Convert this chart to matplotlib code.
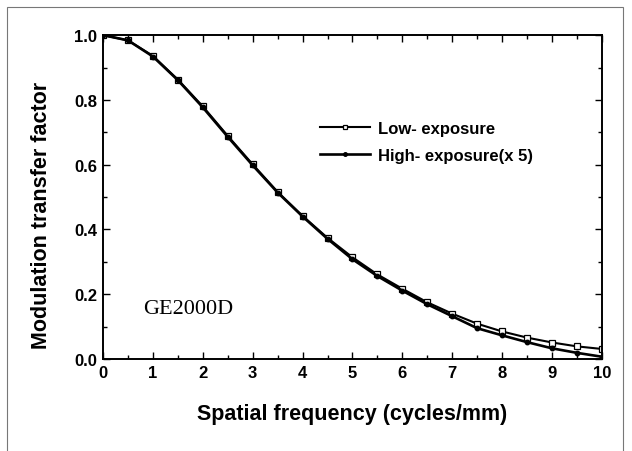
import matplotlib
matplotlib.use("Agg")
import matplotlib.pyplot as plt
from matplotlib.patches import Rectangle
from matplotlib.ticker import MultipleLocator, FormatStrFormatter

freq = [0, 0.5, 1, 1.5, 2, 2.5, 3, 3.5, 4, 4.5, 5, 5.5, 6, 6.5, 7, 7.5, 8, 8.5, 9, 9.5, 10]
low_exposure = [1.0, 0.984, 0.936, 0.863, 0.780, 0.689, 0.601, 0.516, 0.442, 0.374,
                0.314, 0.261, 0.217, 0.175, 0.140, 0.109, 0.085, 0.066, 0.051, 0.039, 0.031]
high_exposure = [1.0, 0.984, 0.934, 0.861, 0.777, 0.686, 0.598, 0.514, 0.440, 0.371,
                 0.308, 0.256, 0.211, 0.169, 0.132, 0.095, 0.073, 0.052, 0.033, 0.019, 0.007]

plt.rcParams['font.family'] = ['Liberation Sans', 'DejaVu Sans']

fig = plt.figure(figsize=(6.32, 4.52), dpi=100)
fig.patches.append(Rectangle((6.5 / 632, -0.05), (623 - 6.5) / 632, 1.05 - 7.5 / 452,
                             transform=fig.transFigure, fill=False,
                             edgecolor='#777777', linewidth=0.8))
ax = fig.add_axes([0.163, 0.2035, 0.7895, 0.7165])

ax.plot(freq, low_exposure, color='black', linewidth=1.5, marker='s', markersize=4.2,
        markerfacecolor='white', markeredgecolor='black', markeredgewidth=0.9,
        label='Low- exposure')
ax.plot(freq, high_exposure, color='black', linewidth=1.9, marker='o', markersize=3.2,
        markerfacecolor='black', markeredgecolor='black', label='High- exposure(x 5)')

ax.set_xlim(0, 10)
ax.set_ylim(0, 1.0)
ax.xaxis.set_major_locator(MultipleLocator(1))
ax.xaxis.set_minor_locator(MultipleLocator(0.5))
ax.yaxis.set_major_locator(MultipleLocator(0.2))
ax.yaxis.set_minor_locator(MultipleLocator(0.1))
ax.yaxis.set_major_formatter(FormatStrFormatter('%.1f'))
ax.tick_params(which='both', direction='in', top=True, right=True, width=1.0)
ax.tick_params(which='major', length=5, labelsize=12, pad=4)
ax.tick_params(which='minor', length=3)
for lbl in ax.get_xticklabels() + ax.get_yticklabels():
    lbl.set_fontweight('bold')
for s in ax.spines.values():
    s.set_linewidth(1.4)

ax.set_xlabel('Spatial frequency (cycles/mm)', fontsize=15.5, fontweight='bold', labelpad=17)
ax.set_ylabel('Modulation transfer factor', fontsize=15.5, fontweight='bold')
ax.yaxis.set_label_coords(-0.102, 0.445)

ax.text(0.8, 0.142, 'GE2000D', fontsize=16, family=['Liberation Serif', 'DejaVu Serif'])

leg = ax.legend(loc='upper left', bbox_to_anchor=(0.435, 0.736), frameon=False,
                prop={'size': 12, 'weight': 'bold'}, handlelength=3.0, handletextpad=0.5,
                labelspacing=0.75, borderpad=0, borderaxespad=0, markerscale=0.8)

fig.savefig('out.png', dpi=100)
